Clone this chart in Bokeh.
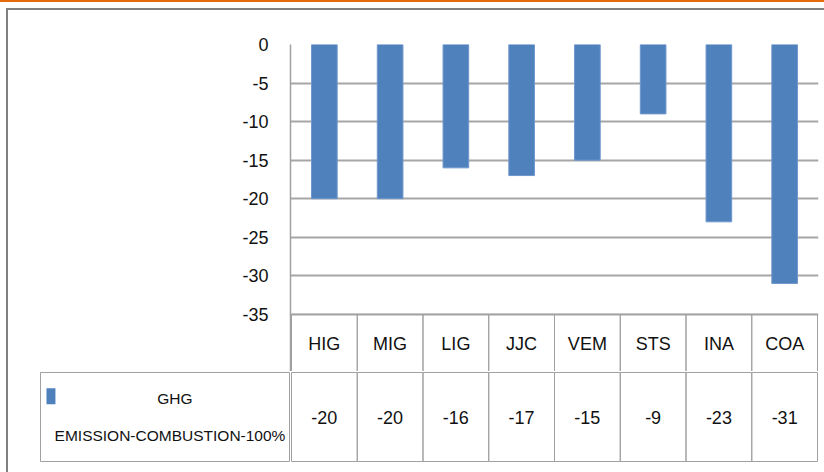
from bokeh.plotting import figure
from bokeh.layouts import column, row
from bokeh.models import (FactorRange, Range1d, FixedTicker, ColumnDataSource,
                          PrintfTickFormatter)
from bokeh.core.properties import value
from bokeh.embed import file_html
from bokeh.resources import INLINE

categories = ["HIG", "MIG", "LIG", "JJC", "VEM", "STS", "INA", "COA"]
values = [-20, -20, -16, -17, -15, -9, -23, -31]
y_ticks = [0, -5, -10, -15, -20, -25, -30, -35]
series_name = ["GHG", "EMISSION-COMBUSTION-100%"]

FONT = "Liberation Sans"
TXT = "#111111"
BAR = "#4f81bd"
GRID = "#a6a6a6"
TBL = "#a0a0a0"

OX, OY = 8, 10                       # content origin inside the chart border
W, H = 824, 472
L, R, T, B = 290, 818, 44, 313       # plot area (page pixels)
HDR_B = 371                          # bottom of header row
TBL_B = 461                          # bottom of table
YMIN, YMAX = -35, 0
UPP = (YMAX - YMIN) / (B - T)        # data units per pixel

def style_fig(f):
    f.outline_line_color = None
    f.background_fill_color = "white"
    f.border_fill_color = "white"
    f.grid.grid_line_color = None

# ---------- main chart (plot area + header row) ----------
xr = FactorRange(*categories, range_padding=0.015, range_padding_units="absolute")
ybot = YMIN - (HDR_B - B - 1) * UPP
main = figure(width=W - OX, height=HDR_B - OY, x_range=xr,
              y_range=Range1d(ybot, YMAX),
              output_backend="svg", toolbar_location=None,
              min_border_left=L - OX, min_border_right=W - R,
              min_border_top=T - OY, min_border_bottom=0)
style_fig(main)
main.xaxis.visible = False

src = ColumnDataSource(dict(cat=categories, val=values,
                            lab=[str(v) for v in values]))
main.vbar(x="cat", top="val", bottom=0, width=0.39, source=src,
          fill_color=BAR, line_color="#6f97cc", line_width=1)

main.ygrid.ticker = FixedTicker(ticks=y_ticks)
main.ygrid.grid_line_color = GRID
main.ygrid.grid_line_width = 2

ya = main.yaxis[0]
ya.ticker = FixedTicker(ticks=y_ticks)
ya.formatter = PrintfTickFormatter(format="%d")
ya.major_label_text_font = FONT
ya.major_label_text_font_size = "18px"
ya.major_label_text_color = TXT
ya.axis_line_color = TBL
ya.axis_line_width = 1.5
ya.major_tick_line_color = None
ya.minor_tick_line_color = None
ya.major_label_standoff = 16

# header row cells and labels
hdr_h = (HDR_B - B - 1) * UPP
main.rect(x="cat", y=YMIN - hdr_h / 2, width=1, height=hdr_h, source=src,
          fill_color=None, line_color=TBL, line_width=1)
main.text(x="cat", y=YMIN - 30 * UPP, text="cat", source=src,
          text_align="center", text_baseline="middle",
          text_font=value(FONT), text_font_size="18px", text_color=TXT)

# ---------- legend cell ----------
CELL_W = L - 40
CELL_H = TBL_B - HDR_B
leg = figure(width=L - OX, height=H - HDR_B,
             x_range=Range1d(-1, CELL_W + 1), y_range=Range1d(CELL_H + 1, -1),
             output_backend="svg", toolbar_location=None,
             min_border_left=40 - OX - 1, min_border_right=0,
             min_border_top=0, min_border_bottom=H - TBL_B - 1)
style_fig(leg)
leg.axis.visible = False
leg.quad(left=[0], right=[CELL_W], top=[0], bottom=[CELL_H],
         fill_color=None, line_color=TBL, line_width=1)
leg.quad(left=[6], right=[15], top=[16], bottom=[32],
         fill_color=BAR, line_color=None)
leg.text(x=[135, 130], y=[26, 64], text=series_name,
         text_align="center", text_baseline="middle",
         text_font=value(FONT), text_font_size="15.5px", text_color=TXT)

# ---------- value row ----------
vals = figure(width=W - L, height=H - HDR_B, x_range=xr,
              y_range=Range1d(-1, CELL_H + 1),
              output_backend="svg", toolbar_location=None,
              min_border_left=0, min_border_right=W - R,
              min_border_top=0, min_border_bottom=H - TBL_B - 1)
style_fig(vals)
vals.axis.visible = False
vals.rect(x="cat", y=CELL_H / 2, width=1, height=CELL_H, source=src,
          fill_color=None, line_color=TBL, line_width=1)
vals.text(x="cat", y=CELL_H / 2, text="lab", source=src,
          text_align="center", text_baseline="middle",
          text_font=value(FONT), text_font_size="18px", text_color=TXT)

inner = column(main, row(leg, vals, spacing=0), spacing=0,
               styles={"border-top": "2px solid #808080",
                       "border-left": "2px solid #808080",
                       "margin-left": "6px"})
page = column(inner, spacing=0,
              styles={"border-top": "2px solid #e46c0a",
                      "padding-top": "6px"})

open("out.html", "w").write(file_html(page, INLINE))
